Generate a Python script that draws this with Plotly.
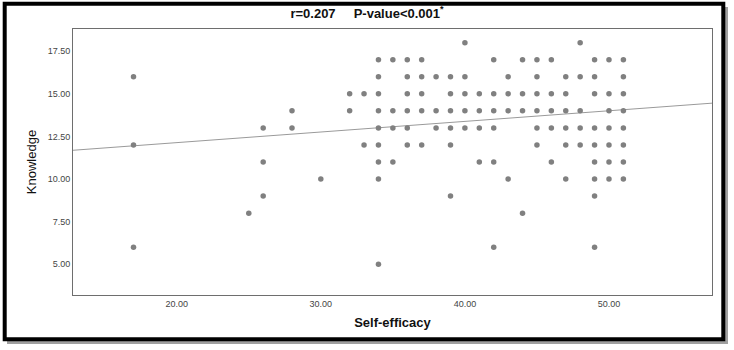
import plotly.graph_objects as go

# ---- data ----
self_efficacy = (
    [17, 17, 17, 25, 26, 26, 26, 28, 28, 30, 32, 32, 33, 33]
    + [34] * 9 + [35] * 4 + [36] * 6 + [37] * 5 + [38] * 3 + [39] * 6
    + [40] * 5 + [41] * 4 + [42] * 6 + [43] * 4 + [44] * 4 + [45] * 6
    + [46] * 5 + [47] * 6 + [48] * 5 + [49] * 9 + [50] * 7 + [51] * 8
)
knowledge = (
    [16, 12, 6, 8, 13, 11, 9, 14, 13, 10, 15, 14, 15, 12]
    + [17, 16, 15, 14, 13, 12, 11, 10, 5]
    + [17, 14, 13, 11]
    + [17, 16, 15, 14, 13, 12]
    + [17, 16, 15, 14, 12]
    + [16, 14, 13]
    + [16, 15, 14, 13, 12, 9]
    + [18, 16, 15, 14, 13]
    + [15, 14, 13, 11]
    + [17, 15, 14, 13, 11, 6]
    + [16, 15, 14, 10]
    + [17, 15, 14, 8]
    + [17, 16, 15, 14, 13, 12]
    + [17, 15, 14, 13, 11]
    + [16, 15, 14, 13, 12, 10]
    + [18, 16, 14, 13, 12]
    + [17, 16, 15, 13, 12, 11, 10, 9, 6]
    + [17, 15, 14, 13, 12, 11, 10]
    + [17, 16, 15, 14, 13, 12, 11, 10]
)
fit_intercept = 10.89
fit_slope = 0.0623
x_ticks = [20, 30, 40, 50]
y_ticks = [5.0, 7.5, 10.0, 12.5, 15.0, 17.5]
title_text = "r=0.207&nbsp;&nbsp;&nbsp;&nbsp;&nbsp;P-value<0.001<sup>*</sup>"

x_range = [12.8, 57.15]
y_range = [3.2, 18.8]

W, H = 734, 350
L, R, T, B = 73, 22, 29, 55
pw, ph = W - L - R, H - T - B


def px(x):
    return (x - L) / pw


def py(y):
    return (H - B - y) / ph


fig = go.Figure()
fig.add_trace(go.Scatter(
    x=x_range,
    y=[fit_intercept + fit_slope * v for v in x_range],
    mode="lines", line=dict(color="#9a9a9a", width=1),
    hoverinfo="skip", showlegend=False,
))
fig.add_trace(go.Scatter(
    x=self_efficacy, y=knowledge, mode="markers",
    marker=dict(color="#808080", size=5.5, line=dict(width=0)),
    showlegend=False,
))

font = "Liberation Sans, Arial, sans-serif"
axis_common = dict(
    showgrid=False, zeroline=False, showline=True, mirror=True,
    linecolor="#6e6e6e", linewidth=1, ticks="", automargin=False,
    tickfont=dict(family=font, size=9, color="#444444"),
    tickformat=".2f",
)

shapes = [
    # drop shadow of the outer frame
    dict(type="line", xref="paper", yref="paper",
         x0=px(726.5), x1=px(726.5), y0=py(7), y1=py(344),
         line=dict(color="#a0a0a0", width=3)),
    dict(type="line", xref="paper", yref="paper",
         x0=px(7), x1=px(728), y0=py(342.5), y1=py(342.5),
         line=dict(color="#a0a0a0", width=3)),
    # outer black frame
    dict(type="rect", xref="paper", yref="paper",
         x0=px(4.7), x1=px(723.3), y0=py(339.2), y1=py(3.7),
         line=dict(color="#000000", width=4)),
]

fig.update_layout(
    width=W, height=H,
    margin=dict(l=L, r=R, t=T, b=B, autoexpand=False),
    paper_bgcolor="white", plot_bgcolor="white",
    title=dict(text=title_text, x=0.5, xref="container", xanchor="center",
               y=1 - 13 / H, yref="container", yanchor="middle",
               font=dict(family=font, size=13, color="#111111", weight="bold")),
    xaxis=dict(range=x_range, tickvals=x_ticks,
               title=dict(text="Self-efficacy", standoff=10,
                          font=dict(family=font, size=13, color="#111111", weight="bold")),
               **axis_common),
    yaxis=dict(range=y_range, tickvals=y_ticks,
               title=dict(text="Knowledge", standoff=8,
                          font=dict(family=font, size=13, color="#111111")),
               **axis_common),
    shapes=shapes,
    showlegend=False,
)

fig.write_html("out.html", config={"displayModeBar": False},
               post_script="document.body.style.margin='0';")
